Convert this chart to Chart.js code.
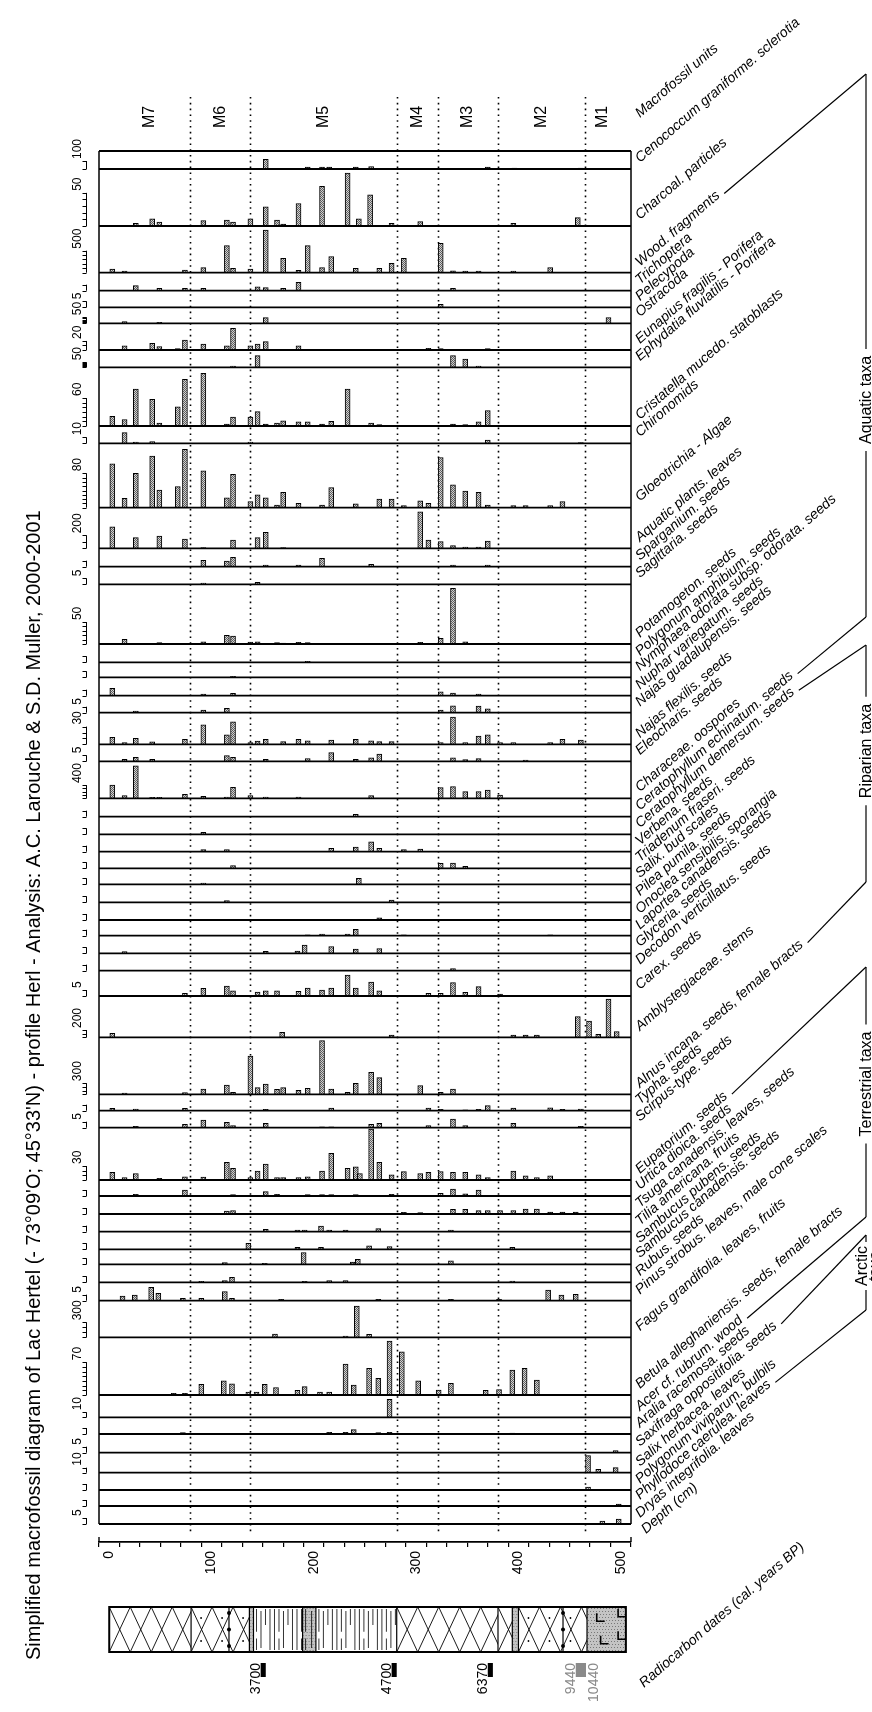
<!DOCTYPE html>
<html>
<head>
<meta charset="utf-8">
<script src="https://cdn.jsdelivr.net/npm/chart.js@4.4.1/dist/chart.umd.min.js"></script>
<style>
  html, body { margin: 0; padding: 0; background: #fff; }
  canvas { display: block; }
</style>
</head>
<body>
<canvas id="diagram" width="872" height="1712"></canvas>
<script>
// ---- data: [depth cm, count] ----
const cenococcum = [[153,121],[194,25],[208,25],[215,25],[241,25],[256,30],[370,25],[396,12],[461,12]];
const charcoal = [[26,4],[42,11],[49,6],[92,8],[115,9],[121,6],[138,11],[153,29],[164,9],[170,3],[185,34],[208,60],[233,80],[244,11],[255,47],[276,4],[304,6.5],[395,4],[458,12.6]];
const wood = [[3,84],[15,39],[74,61],[92,114],[115,614],[121,98],[138,84],[153,970],[170,325],[185,52],[194,614],[208,114],[217,364],[241,98],[264,98],[276,211],[288,325],[324,666],[336,45],[348,39],[361,39],[395,39],[431,114]];
const trichoptera = [[26,4.2],[49,2],[74,2],[92,2],[145,3.3],[153,2.5],[170,2],[185,7],[336,2]];
const pelecypoda = [[324,2.5]];
const ostracoda = [[15,14],[49,8],[153,47],[488,47]];
const eunapius = [[15,9],[42,15],[49,7.4],[67,3],[74,22],[92,13],[115,9],[121,48],[138,9],[145,13],[153,18.5],[185,9],[312,3.7],[324,3],[370,3]];
const ephydatia = [[121,13],[145,117],[336,117],[348,83],[361,13]];
const cristatella = [[3,21],[15,14],[26,79],[42,57],[49,6],[67,41],[74,100],[92,113],[115,4],[121,19],[138,19],[145,31],[153,4],[164,6],[170,11],[185,9],[194,9],[208,4],[217,10],[233,79],[256,6],[264,3],[336,4],[348,3],[361,9],[370,33]];
const chironomids = [[15,18],[26,2],[42,3],[138,2],[370,5.5],[461,1]];
const gloeotrichia = [[3,102],[15,22],[26,80],[42,120],[49,41],[67,49],[74,136],[92,86],[115,23],[121,78],[138,14],[145,30],[153,23],[164,6],[170,36],[185,10],[208,6],[217,47],[241,9],[264,20],[276,20],[288,5],[304,16],[312,10],[324,117],[336,53],[348,39],[361,36],[370,6],[395,5],[407,5],[431,5],[443,14]];
const aquaticPlants = [[3,332],[26,165],[49,190],[74,143],[92,10],[121,128],[145,165],[153,246],[170,10],[304,563],[312,128],[324,103],[336,41],[348,20],[361,20],[370,112]];
const sparganium = [[92,5.3],[115,4.7],[121,7.8],[153,1.4],[185,1.4],[208,7],[256,2],[336,1.4],[370,1.4]];
const sagittaria = [[92,1.1],[145,1.7]];
const potamogeton = [[15,10.7],[49,3],[92,5.2],[115,20],[121,18],[138,4.5],[145,5.2],[164,3],[170,2.3],[185,3.9],[194,3],[304,3.9],[324,13],[336,127],[348,5.2]];
const polygonumAmph = [[194,0.8]];
const nymphaea = [[121,0.8]];
const nuphar = [[3,6.2],[92,1.4],[121,1.9],[324,3.3],[336,2.2],[361,1.4]];
const najasGuad = [[26,1.4],[92,2.2],[115,3.7],[324,2.2],[336,5.8],[361,5.6],[370,3.3]];
const najasFlex = [[3,12],[15,3],[26,10],[42,4],[74,8.5],[92,33],[115,16],[121,38],[138,3],[145,5.6],[153,8.5],[170,4.5],[185,8.5],[194,6],[217,7],[241,8.5],[256,6],[264,4.5],[276,4.5],[324,3],[336,46],[348,3],[361,14],[370,16],[382,3],[395,3],[431,3],[443,8.5],[461,7]];
const eleocharis = [[15,1.7],[26,3.3],[42,1.7],[115,4.7],[121,3.3],[153,1.7],[194,2.2],[217,7.2],[241,1.7],[256,2.8],[264,6],[336,2.8],[348,1.4],[361,2.2],[407,1.1]];
const characeae = [[3,400],[15,80],[26,980],[42,30],[49,30],[74,120],[92,60],[115,40],[121,330],[138,80],[153,40],[185,40],[256,80],[324,325],[336,355],[348,200],[361,200],[370,250],[382,100]];
const ceratEchinatum = [[241,2]];
const ceratDemersum = [[92,1.7]];
const verbena = [[92,1.7],[115,1.7],[217,2.8],[241,3.9],[256,8.3],[264,2.8],[288,1.7],[304,2.2]];
const triadenum = [[121,2.2],[324,4.2],[336,4.4],[348,1.7]];
const salixBuds = [[92,1.1],[244,5]];
const pilea = [[115,1.4],[276,1.9]];
const onoclea = [[264,1.9]];
const laportea = [[194,0.8],[208,1.4],[233,1.4],[241,5.3],[288,0.8],[431,0.8]];
const glyceria = [[15,1.4],[153,1.7],[184,1.9],[191,6.9],[217,5.6],[241,3.6],[264,3.9]];
const decodon = [[336,1.7]];
const carex = [[74,2.2],[92,6.4],[115,8.3],[121,4.4],[145,3.3],[153,4.4],[164,4.4],[185,3.9],[194,6.7],[208,5],[217,6.7],[233,17.5],[241,6.7],[256,11.7],[264,4.4],[312,2.2],[324,2.2],[336,11.1],[348,3.1],[361,7.8],[382,1.7]];
const amblystegiaceae = [[3,110],[169,137],[276,63],[395,63],[407,63],[418,63],[458,564],[469,447],[478,82],[488,1050],[496,156]];
const alnus = [[15,36],[74,46],[92,143],[115,251],[121,54],[138,1035],[145,181],[153,278],[164,135],[170,181],[185,108],[194,162],[208,1450],[217,143],[233,54],[241,297],[256,595],[264,449],[304,235],[324,54],[336,143]];
const typha = [[3,1.9],[26,1.4],[74,1.9],[153,1.1],[217,2.2],[312,2.2],[324,1.1],[348,0.8],[361,1.1],[370,4.2],[395,2.2],[431,2.5],[443,1.1],[461,1.4]];
const scirpus = [[26,1.1],[74,2.8],[92,6.4],[115,4.4],[121,1.7],[153,3.6],[208,0.8],[217,0.8],[256,2.8],[264,3.6],[312,1.7],[336,7.2],[348,1.7],[395,3.6],[461,1.1]];
const eupatorium = [[3,16.5],[15,5],[26,14],[49,3.6],[74,7],[92,6.4],[115,38],[121,25],[138,5],[145,19],[153,34],[164,5],[170,5],[185,5],[194,7],[208,19],[217,57],[233,25],[241,28],[245,14],[256,109],[264,38],[276,11],[288,18],[304,13.5],[312,16.5],[324,18],[336,16.5],[348,16.5],[361,11],[370,5],[395,19],[407,9],[418,5],[431,9]];
const urtica = [[26,1.4],[74,5],[121,1.1],[153,3.6],[164,1.4],[194,1.1],[208,1.1],[217,1.1],[241,1.1],[276,1.4],[324,2.2],[336,5.8],[348,1.9],[361,5]];
const tsuga = [[115,2.5],[121,2.8],[288,1.4],[304,1.1],[336,3.9],[348,3.9],[361,2.8],[370,2.8],[382,2.8],[395,2.8],[407,4.2],[418,4.2],[431,1.7],[443,1.7],[456,1.7]];
const tilia = [[153,1.9],[184,1.4],[191,1.4],[207,4.7],[215,1.4],[231,1.4],[263,2.5],[334,1.4]];
const sambucusPubens = [[136,5],[184,1.7],[207,1.7],[254,2.8],[274,2.2],[394,1.7]];
const sambucusCanad = [[113,1.4],[152,0.8],[190,9.7],[238,1.9],[243,4.2],[334,2.8]];
const rubus = [[90,0.8],[113,1.4],[120,4.2],[191,0.8],[215,1.4],[231,1.4],[394,1.1]];
const pinus = [[13,3.9],[25,4.7],[41,11.2],[48,6.1],[72,1.9],[90,1.9],[113,7.5],[120,1.9],[168,1.1],[263,1.1],[334,1.1],[381,1.1],[429,8.9],[442,4.7],[456,5.3]];
const fagus = [[162,66],[231,26],[242,626],[254,60]];
const betula = [[63,3.5],[74,3.5],[90,23],[112,30],[120,24],[136,6],[144,6],[152,23],[163,16],[184,10],[191,18],[206,6],[215,6],[231,66],[239,21],[254,57],[263,35.5],[274,115],[286,92],[302,30],[322,10.6],[334,25],[368,10],[381,11.3],[394,53],[406,57],[418,32]];
const acer = [[274,36]];
const aralia = [[72,1.1],[215,1.4],[231,1.4],[239,3.6],[263,1.1],[274,1.4],[394,0.8]];
const saxifraga = [[495,1.7]];
const salixHerbacea = [[468,34],[478,6.6],[495,10]];
const polygonumViv = [[468,2.5]];
const phyllodoce = [[498,1.5]];
const dryas = [[482,2.5],[498,4]];

const taxa = ['Cenococcum graniforme. sclerotia', 'Charcoal. particles', 'Wood. fragments', 'Trichoptera', 'Pelecypoda', 'Ostracoda',
  'Eunapius fragilis - Porifera', 'Ephydatia fluviatilis - Porifera', 'Cristatella mucedo. statoblasts', 'Chironomids', 'Gloeotrichia - Algae',
  'Aquatic plants. leaves', 'Sparganium. seeds', 'Sagittaria. seeds', 'Potamogeton. seeds', 'Polygonum amphibium. seeds',
  'Nymphaea odorata subsp. odorata. seeds', 'Nuphar variegatum. seeds', 'Najas guadalupensis. seeds', 'Najas flexilis. seeds', 'Eleocharis. seeds',
  'Characeae. oospores', 'Ceratophyllum echinatum. seeds', 'Ceratophyllum demersum. seeds', 'Verbena. seeds', 'Triadenum fraseri. seeds',
  'Salix. bud scales', 'Pilea pumila. seeds', 'Onoclea sensibilis. sporangia', 'Laportea canadensis. seeds', 'Glyceria. seeds',
  'Decodon verticillatus. seeds', 'Carex. seeds', 'Amblystegiaceae. stems', 'Alnus incana. seeds, female bracts', 'Typha. seeds',
  'Scirpus-type. seeds', 'Eupatorium. seeds', 'Urtica dioica. seeds', 'Tsuga canadensis. leaves, seeds', 'Tilia americana. fruits',
  'Sambucus pubens. seeds', 'Sambucus canadensis. seeds', 'Rubus. seeds', 'Pinus strobus. leaves, male cone scales', 'Fagus grandifolia. leaves, fruits',
  'Betula alleghaniensis. seeds, female bracts', 'Acer cf. rubrum. wood', 'Aralia racemosa. seeds', 'Saxifraga oppositifolia. seeds', 'Salix herbacea. leaves',
  'Polygonum viviparum. bulbils', 'Phyllodoce caerulea. leaves', 'Dryas integrifolia. leaves'];

const series = [cenococcum, charcoal, wood, trichoptera, pelecypoda, ostracoda, eunapius, ephydatia, cristatella, chironomids, gloeotrichia,
  aquaticPlants, sparganium, sagittaria, potamogeton, polygonumAmph, nymphaea, nuphar, najasGuad, najasFlex, eleocharis, characeae,
  ceratEchinatum, ceratDemersum, verbena, triadenum, salixBuds, pilea, onoclea, laportea, glyceria, decodon, carex, amblystegiaceae,
  alnus, typha, scirpus, eupatorium, urtica, tsuga, tilia, sambucusPubens, sambucusCanad, rubus, pinus, fagus, betula, acer, aralia,
  saxifraga, salixHerbacea, polygonumViv, phyllodoce, dryas];

// value axis of each strip and its little scale bar
const axisMax = [225, 86, 1061, 15, 13.8, 133, 59, 173, 126, 29, 150, 625, 15.3, 14.7, 136, 15.2, 12.5, 15.3, 14.2, 53.6, 14.2, 1121,
  15.3, 14.7, 14.5, 13.8, 13.3, 15, 14.7, 13.1, 14.7, 14.5, 21.1, 1131, 1540, 13.7, 14.2, 112, 13.3, 15, 14.7, 14.7, 12.5, 15, 15.3,
  732, 123, 44.6, 13.9, 15.6, 40, 14.4, 13.3, 15];
const combValues = [100, 50, 500, 5, 5, 50, 20, 50, 60, 10, 80, 200, 5, 5, 50, 5, 5, 5, 5, 30, 5, 400,
  5, 5, 5, 5, 5, 5, 5, 5, 5, 5, 5, 200, 300, 5, 5, 30, 5, 5, 5, 5, 5, 5, 5, 300, 70, 10, 5, 5, 10, 5, 5, 5];
const combLabels = ['100', '50', '500', '', '5', '50', '20', '50', '60', '10', '80', '200', '', '5', '50', '', '', '', '5', '30', '5', '400',
  '', '', '', '', '', '', '', '', '', '', '5', '200', '300', '', '5', '30', '', '', '', '', '', '', '5', '300', '70', '10', '', '5', '10', '', '', '5'];

const unitBounds = [79, 138, 281, 321, 380, 465];
const unitNames = ['M7', 'M6', 'M5', 'M4', 'M3', 'M2', 'M1'];

const lithoTop = [0, 80, 137, 141, 189, 202, 281, 380, 394, 400, 467];
const lithoBase = [80, 137, 141, 189, 202, 281, 380, 394, 400, 467, 505];
const lithoType = ['diamond', 'diamondDot', 'stipple', 'lines', 'stippleLines', 'lines', 'diamond', 'diamond', 'stipple', 'diamondDot', 'greyL'];

const dateFrom = [148, 276, 370, 456];
const dateTo = [153, 281, 375, 466];
const dateText = ['3700', '4700', '6370', '9440'];
const dateText2 = ['', '', '', '10440'];
const dateGrey = [false, false, false, true];

const groupNames = ['Aquatic taxa', 'Riparian taxa', 'Terrestrial taxa', 'Arctic taxa'];
const groupFrom = [2, 23, 37, 49];
const groupTo = [22, 34, 47, 52];

// ---- layout (px) ----
const unitsBand = 54, spacerBand = 18;
const stripHeights = [18, 57, 46.7, 18, 16.6, 16, 26.7, 17.3, 58.7, 17.3, 64.4, 40.6, 18.4, 17.6, 59.7, 18.3, 15, 18.4, 17, 31.6, 17, 37,
  18.4, 17.6, 17.4, 16.6, 16, 18, 17.7, 15.7, 17.6, 17.4, 25.3, 41.3, 57, 16.4, 17, 52.3, 16, 18, 17.7, 17.6, 15, 18, 18.4,
  36.6, 57.7, 22.3, 16.7, 18.7, 20, 17.3, 16, 18];
const groupTopY = [74, 645, 967, 1235];
const groupBottomY = [617, 882, 1217, 1310];
const groupTextY = [400, 751, 1084, 1266];
const bracketX = 866;
const LX = 640, ANG = -41 * Math.PI / 180;
const FONT = "'Liberation Sans', Arial, sans-serif";
const LABEL_FONT = 'italic 14px ' + FONT;

// striped grey fill like the printed bars
const hatch = (() => {
  const c = document.createElement('canvas');
  c.width = 2; c.height = 2;
  const g = c.getContext('2d');
  g.fillStyle = '#d2d2d2'; g.fillRect(0, 0, 2, 2);
  g.fillStyle = '#5e5e5e'; g.fillRect(0, 0, 1, 1); g.fillRect(1, 1, 1, 1);
  return g.createPattern(c, 'repeat');
})();

const datasets = series.map((pts, i) => ({
  label: taxa[i],
  data: pts.map(p => ({ x: p[0], y: p[1] })),
  yAxisID: 'y' + i,
  xAxisID: 'x',
  grouped: false,
  barThickness: 5,
  backgroundColor: hatch,
  borderColor: '#000',
  borderWidth: 1
}));

// stacked value axes; left boxes are laid out from the last index upwards, so add them bottom first
const scaleCfg = {
  x: {
    type: 'linear', position: 'bottom', min: 0, max: 500,
    afterFit: s => { s.height = 40; },
    ticks: {
      stepSize: 20, autoSkip: false, minRotation: 90, maxRotation: 90, padding: 4,
      color: '#000', font: { family: FONT, size: 14 },
      callback: v => (v % 100 === 0 ? String(v) : '')
    },
    grid: { drawOnChartArea: false, drawTicks: true, tickLength: 5, color: '#000', lineWidth: 1.2 },
    border: { display: true, color: '#000', width: 1.8 }
  }
};
scaleCfg.ySpacer = { type: 'linear', display: false, position: 'left', stack: 'strips', stackWeight: spacerBand, min: 0, max: 1 };
for (let i = taxa.length - 1; i >= 0; i--) {
  scaleCfg['y' + i] = { type: 'linear', display: false, position: 'left', stack: 'strips', stackWeight: stripHeights[i], min: 0, max: axisMax[i] };
}
scaleCfg.yUnits = { type: 'linear', display: false, position: 'left', stack: 'strips', stackWeight: unitsBand, min: 0, max: 1 };

function rotText(ctx, text, x, y, ang, align, font, color) {
  ctx.save();
  ctx.translate(x, y);
  ctx.rotate(ang);
  ctx.font = font;
  ctx.fillStyle = color || '#000';
  ctx.textAlign = align || 'left';
  ctx.textBaseline = 'alphabetic';
  ctx.fillText(text, 0, 0);
  ctx.restore();
}

function line(ctx, x0, y0, x1, y1) {
  ctx.beginPath(); ctx.moveTo(x0, y0); ctx.lineTo(x1, y1); ctx.stroke();
}

function labelStart(chart, i) {
  return [LX, chart.scales['y' + i].bottom - 6];
}

function labelEnd(chart, i, extra) {
  const ctx = chart.ctx;
  ctx.font = LABEL_FONT;
  const w = ctx.measureText(taxa[i]).width + extra;
  const [sx, sy] = labelStart(chart, i);
  return [sx + w * Math.cos(ANG), sy + w * Math.sin(ANG)];
}

function drawLitho(ctx, xs) {
  const top = 1607, bot = 1652, h = bot - top;
  ctx.save();
  lithoTop.forEach((d0, i) => {
    const x0 = xs.getPixelForValue(d0), x1 = xs.getPixelForValue(lithoBase[i]);
    const kind = lithoType[i];
    ctx.save();
    ctx.beginPath(); ctx.rect(x0, top, x1 - x0, h); ctx.clip();
    ctx.strokeStyle = '#000'; ctx.fillStyle = '#000'; ctx.lineWidth = 0.9;
    if (kind === 'stipple' || kind === 'stippleLines' || kind === 'greyL') {
      ctx.fillStyle = '#c4c4c4'; ctx.fillRect(x0, top, x1 - x0, h);
      ctx.fillStyle = '#777';
      for (let yy = top + 1; yy < bot; yy += 3) for (let xx = x0 + ((yy - top) % 2); xx < x1; xx += 3) ctx.fillRect(xx, yy, 1, 1);
    }
    if (kind.startsWith('diamond')) {
      const w = 21;
      ctx.beginPath();
      for (let xx = x0 - w; xx < x1 + w; xx += w) {
        ctx.moveTo(xx, top); ctx.lineTo(xx + w, bot);
        ctx.moveTo(xx + w, top); ctx.lineTo(xx, bot);
      }
      ctx.stroke();
    }
    if (kind === 'diamondDot') {
      const xm = x0 + (x1 - x0) * 0.65;
      ctx.lineWidth = 1.2; line(ctx, xm, top, xm, bot);
      ctx.fillStyle = '#000';
      for (let xx = x0 + 10; xx < x1; xx += 21) {
        ctx.beginPath(); ctx.arc(xx, top + 11, 0.9, 0, 7); ctx.fill();
        ctx.beginPath(); ctx.arc(xx, bot - 11, 0.9, 0, 7); ctx.fill();
      }
      [top + 6, top + h / 2, bot - 6].forEach(yy => { ctx.beginPath(); ctx.arc(xm, yy, 2, 0, 7); ctx.fill(); });
    }
    if (kind === 'lines' || kind === 'stippleLines') {
      ctx.lineWidth = 0.8;
      let k = 0;
      for (let xx = x0 + 3; xx < x1 - 1; xx += (kind === 'lines' ? 4.5 : 6), k++) {
        const r = (k * 7) % 5;
        if (r === 0) { line(ctx, xx, top + 2, xx, top + h * 0.55); line(ctx, xx, top + h * 0.7, xx, bot - 2); }
        else if (r === 2) { line(ctx, xx, top + 4, xx, bot - 4); }
        else if (r === 4) { line(ctx, xx, top + 2, xx, top + h * 0.4); }
        else { line(ctx, xx, top + 2, xx, bot - 2); }
      }
    }
    if (kind === 'greyL') {
      ctx.lineWidth = 1.6;
      [[0.25, 0.25], [0.35, 0.75], [0.8, 0.15], [0.8, 0.65]].forEach(([fx, fy]) => {
        const px = x0 + (x1 - x0) * fx, py = top + h * fy;
        ctx.beginPath(); ctx.moveTo(px, py - 5); ctx.lineTo(px, py + 3); ctx.lineTo(px + 8, py + 3); ctx.stroke();
      });
    }
    ctx.restore();
  });
  ctx.strokeStyle = '#000'; ctx.lineWidth = 1.2;
  lithoTop.slice(1).forEach(d => { const x = xs.getPixelForValue(d); line(ctx, x, top, x, bot); });
  ctx.lineWidth = 2;
  ctx.strokeRect(xs.getPixelForValue(0), top, xs.getPixelForValue(505) - xs.getPixelForValue(0), h);
  ctx.restore();
}

const diagramPlugin = {
  id: 'diagramPlugin',
  beforeDatasetsDraw(chart) {
    const { ctx, chartArea: a, scales } = chart;
    const xs = scales.x;
    ctx.save();
    ctx.strokeStyle = '#000'; ctx.lineWidth = 1.6; ctx.setLineDash([1.6, 4.2]);
    const yEnd = scales.ySpacer.top + 11;
    unitBounds.forEach(d => {
      const x = Math.round(xs.getPixelForValue(d)) + 0.5;
      line(ctx, x, a.top, x, yEnd);
    });
    ctx.restore();
  },
  afterDatasetsDraw(chart) {
    const { ctx, chartArea: a, scales } = chart;
    const xs = scales.x;
    ctx.save();
    ctx.strokeStyle = '#000';
    // strip frames
    const first = scales.y0, last = scales['y' + (taxa.length - 1)];
    ctx.lineWidth = 1.8;
    taxa.forEach((t, i) => {
      const ys = scales['y' + i];
      line(ctx, a.left, ys.bottom, a.right, ys.bottom);
    });
    line(ctx, a.left, first.top, a.right, first.top);
    ctx.lineWidth = 1.5;
    line(ctx, a.left, first.top, a.left, last.bottom);
    line(ctx, a.right, first.top, a.right, last.bottom);

    // end caps of the depth axis
    ctx.lineWidth = 1.4;
    line(ctx, a.left, a.bottom, a.left, a.bottom - 5);
    line(ctx, a.right, a.bottom, a.right, a.bottom - 5);

    // little scale bars with their values
    ctx.lineWidth = 1;
    taxa.forEach((t, i) => {
      const ys = scales['y' + i];
      const L = combValues[i];
      const step = L >= 100 ? 100 : (L >= 20 ? 10 : L);
      const cx = 86.5;
      const y0 = ys.getPixelForValue(0), y1 = ys.getPixelForValue(L);
      ctx.beginPath();
      ctx.moveTo(cx, y0); ctx.lineTo(cx, y1);
      for (let v = 0; v <= L + 1e-9; v += step) {
        const yy = Math.round(ys.getPixelForValue(v)) + 0.5;
        ctx.moveTo(cx, yy); ctx.lineTo(cx - 4, yy);
      }
      ctx.stroke();
      if (combLabels[i]) rotText(ctx, combLabels[i], cx - 6, y1 - 2, -Math.PI / 2, 'left', '12px ' + FONT);
    });

    // macrofossil units
    const edges = [0, ...unitBounds, 500];
    unitNames.forEach((n, i) => {
      const x = xs.getPixelForValue((edges[i] + edges[i + 1]) / 2);
      ctx.save();
      ctx.translate(x, scales.yUnits.top + 20);
      ctx.rotate(-Math.PI / 2);
      ctx.font = '16px ' + FONT; ctx.fillStyle = '#000';
      ctx.textAlign = 'center'; ctx.textBaseline = 'middle';
      ctx.fillText(n, 0, 0);
      ctx.restore();
    });

    // slanted taxon names
    taxa.forEach((t, i) => {
      const [sx, sy] = labelStart(chart, i);
      rotText(ctx, t, sx, sy, ANG, 'left', LABEL_FONT);
    });
    rotText(ctx, 'Macrofossil units', LX, scales.yUnits.top + 21, ANG, 'left', LABEL_FONT);
    rotText(ctx, 'Depth (cm)', LX + 6, a.bottom - 8, ANG, 'left', LABEL_FONT);
    rotText(ctx, 'Radiocarbon dates (cal. years BP)', LX + 4, 1688, ANG, 'left', LABEL_FONT);

    // group brackets
    ctx.lineWidth = 1.2;
    groupNames.forEach((g, k) => {
      const e0 = labelEnd(chart, groupFrom[k], 5);
      const e1 = labelEnd(chart, groupTo[k], 5);
      const bx = bracketX;
      line(ctx, e0[0], e0[1], bx, groupTopY[k]);
      line(ctx, e1[0], e1[1], bx, groupBottomY[k]);
      ctx.font = '16px ' + FONT;
      const arctic = k === 3;
      const half = arctic ? 24 : ctx.measureText(g).width / 2 + 7;
      line(ctx, bx, groupTopY[k], bx, groupTextY[k] - half);
      line(ctx, bx, groupTextY[k] + half, bx, groupBottomY[k]);
      if (arctic) {
        rotText(ctx, 'Arctic', bx + 1, groupTextY[k], -Math.PI / 2, 'center', '16px ' + FONT);
        rotText(ctx, 'taxa', bx + 14, groupTextY[k], -Math.PI / 2, 'center', '16px ' + FONT);
      } else {
        rotText(ctx, g, bx + 5, groupTextY[k], -Math.PI / 2, 'center', '16px ' + FONT);
      }
    });
    ctx.restore();
  },
  afterDraw(chart) {
    const { ctx, scales } = chart;
    const xs = scales.x;
    ctx.save();
    rotText(ctx, "Simplified macrofossil diagram of Lac Hertel (- 73°09'O; 45°33'N) - profile Herl - Analysis: A.C. Larouche & S.D. Muller, 2000-2001",
      40, 1660, -Math.PI / 2, 'left', '20px ' + FONT);
    drawLitho(ctx, xs);
    dateFrom.forEach((d, i) => {
      const x0 = xs.getPixelForValue(d), x1 = xs.getPixelForValue(dateTo[i]);
      const col = dateGrey[i] ? '#8a8a8a' : '#000';
      ctx.fillStyle = col;
      ctx.fillRect(x0, 1663, x1 - x0, 14);
      rotText(ctx, dateText[i], x0 - 1, 1663, -Math.PI / 2, 'right', '14px ' + FONT, col);
      if (dateText2[i]) rotText(ctx, dateText2[i], x1 + 12, 1663, -Math.PI / 2, 'right', '14px ' + FONT, col);
    });
    ctx.restore();
  }
};

new Chart(document.getElementById('diagram'), {
  type: 'bar',
  data: { datasets },
  options: {
    responsive: false,
    animation: false,
    devicePixelRatio: 1,
    layout: { padding: { left: 99, right: 241, top: 97, bottom: 130 } },
    plugins: { legend: { display: false }, tooltip: { enabled: false }, title: { display: false } },
    scales: scaleCfg
  },
  plugins: [diagramPlugin]
});
</script>
</body>
</html>
